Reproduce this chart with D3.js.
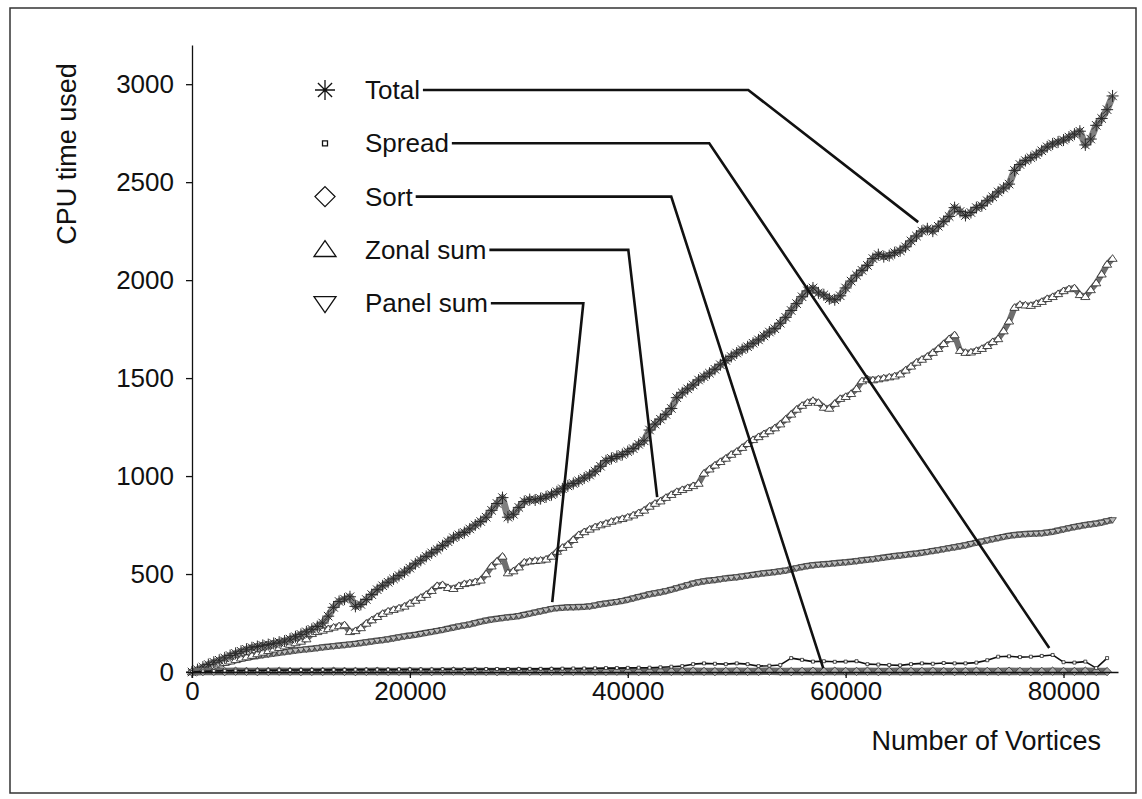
<!DOCTYPE html>
<html>
<head>
<meta charset="utf-8">
<script src="https://cdn.jsdelivr.net/npm/d3@7"></script>
<style>
  body { margin: 0; background: #fff; }
  svg text { font-family: "Liberation Sans", Arial, Helvetica, sans-serif; fill: #111; }
  .axis path, .axis line { stroke: #111; stroke-width: 1.3; }
  .axis text { font-size: 26px; }
</style>
</head>
<body>
<div id="chart"></div>
<script>
// CPU time vs number of vortices

// sample grid (vortices) for the dense series, every 500
var vortices500 = d3.range(0, 85000, 500);
// coarse grid for the two near-zero series, every 1000
var vortices1000 = d3.range(0, 85000, 1000);

var totalTime = [
  0, 12, 25, 38, 50, 60, 72, 84, 95, 106,
  116, 124, 130, 136, 140, 146, 152, 158, 168, 180,
  192, 205, 218, 232, 250, 285, 330, 360, 372, 384,
  335, 345, 370, 395, 420, 440, 458, 475, 492, 510,
  530, 552, 570, 590, 608, 625, 645, 665, 685, 700,
  712, 730, 750, 768, 790, 825, 860, 890, 790, 805,
  840, 870, 880, 878, 885, 894, 905, 920, 935, 950,
  962, 975, 990, 1005, 1025, 1050, 1078, 1090, 1100, 1110,
  1125, 1140, 1162, 1180, 1235, 1265, 1290, 1315, 1345, 1400,
  1425, 1445, 1465, 1490, 1507, 1525, 1545, 1568, 1590, 1610,
  1628, 1645, 1660, 1678, 1695, 1715, 1735, 1752, 1780, 1810,
  1845, 1880, 1915, 1945, 1960, 1935, 1925, 1905, 1900, 1920,
  1960, 1995, 2025, 2050, 2075, 2110, 2130, 2120, 2125, 2140,
  2150, 2170, 2200, 2225, 2250, 2262, 2250, 2275, 2300, 2325,
  2370, 2350, 2330, 2345, 2370, 2380, 2405, 2425, 2450, 2470,
  2490, 2560, 2590, 2610, 2625, 2640, 2660, 2680, 2695, 2705,
  2715, 2730, 2745, 2760, 2690, 2720, 2790, 2825, 2870, 2940
];

var zonalSum = [
  0, 8, 16, 24, 32, 40, 48, 55, 62, 70,
  76, 84, 92, 100, 108, 116, 124, 132, 140, 148,
  156, 168, 195, 205, 212, 220, 228, 235, 240, 205,
  210, 225, 248, 265, 282, 298, 310, 318, 326, 335,
  350, 365, 380, 395, 415, 440, 445, 430, 425, 440,
  450, 455, 460, 468, 500, 540, 565, 590, 505, 515,
  535, 560, 565, 568, 570, 575, 590, 615, 635, 650,
  675, 700, 715, 728, 740, 750, 758, 768, 775, 782,
  790, 800, 812, 825, 845, 860, 872, 890, 905, 920,
  930, 940, 950, 962, 1014, 1035, 1055, 1073, 1090, 1110,
  1125, 1145, 1165, 1185, 1200, 1215, 1230, 1245, 1265, 1290,
  1315, 1340, 1360, 1375, 1385, 1375, 1350, 1345, 1370, 1395,
  1405, 1420, 1445, 1485, 1495, 1490, 1495, 1500, 1505, 1510,
  1520, 1540, 1560, 1580, 1595, 1610, 1630, 1650, 1675, 1700,
  1720, 1640, 1630, 1632, 1640, 1650, 1665, 1685, 1700, 1740,
  1790, 1860, 1875, 1872, 1870, 1880, 1890, 1905, 1915, 1930,
  1945, 1955, 1960, 1925, 1915, 1950, 1985, 2030, 2080, 2110
];

var panelSum = [
  0, 8, 16, 24, 32, 40, 47, 54, 61, 67,
  73, 78, 82, 86, 90, 94, 98, 102, 106, 110,
  113, 116, 119, 122, 126, 129, 132, 135, 138, 141,
  144, 148, 152, 156, 160, 163, 167, 172, 177, 182,
  186, 190, 195, 200, 205, 210, 215, 221, 227, 233,
  238, 243, 250, 257, 263, 268, 272, 276, 279, 282,
  286, 292, 298, 304, 310, 316, 322, 326, 328, 330,
  331, 332, 333, 335, 340, 346, 350, 354, 358, 363,
  369, 376, 383, 390, 397, 402, 407, 413, 420, 428,
  436, 444, 452, 458, 463, 467, 470, 474, 478, 481,
  484, 488, 492, 496, 500, 504, 507, 510, 514, 518,
  524, 530, 536, 541, 545, 548, 550, 552, 555, 558,
  560, 563, 566, 570, 573, 576, 580, 584, 588, 592,
  595, 598, 602, 605, 609, 613, 618, 622, 627, 632,
  637, 642, 647, 654, 660, 666, 672, 678, 684, 690,
  695, 699, 702, 704, 706, 707, 708, 712, 716, 722,
  728, 734, 740, 745, 750, 754, 758, 763, 770, 776
];

var sortTime = [
  0, 2, 3, 2, 4, 3, 2, 3, 4, 3,
  2, 3, 3, 4, 3, 2, 3, 4, 3, 3,
  4, 3, 2, 3, 4, 3, 4, 3, 2, 3,
  4, 3, 3, 4, 2, 3, 4, 3, 3, 4,
  3, 2, 3, 4, 3, 3, 4, 3, 2, 3,
  4, 3, 3, 4, 3, 2, 3, 4, 3, 4,
  3, 3, 4, 2, 3, 4, 3, 3, 4, 3,
  2, 3, 4, 3, 3, 4, 3, 2, 3, 4,
  3, 3, 4, 3, 2
];

var spreadTime = [
  0, 3, 5, 6, 7, 8, 8, 9, 9, 10,
  10, 10, 11, 11, 11, 12, 12, 12, 12, 13,
  13, 13, 13, 14, 14, 14, 14, 15, 15, 15,
  15, 16, 16, 16, 17, 18, 18, 19, 20, 20,
  21, 22, 22, 24, 27, 30, 40, 44, 42, 40,
  44, 40, 30, 32, 36, 71, 62, 53, 55, 52,
  53, 55, 40, 38, 36, 34, 40, 44, 42, 46,
  44, 44, 48, 60, 78, 80, 76, 78, 82, 87,
  50, 48, 53, 20, 71
];

var xTicks = [0, 20000, 40000, 60000, 80000];
var yTicks = [0, 500, 1000, 1500, 2000, 2500, 3000];

var legendNames = ["Total", "Spread", "Sort", "Zonal sum", "Panel sum"];
// leader lines: corner x (vortices) and end point (vortices, time)
var leaderCornerX = [51060, 47480, 43990, 40050, 35920];
var leaderEndX = [66660, 78690, 57940, 42700, 33070];
var leaderEndY = [2296, 122, 20, 893, 357];

var W = 1142, H = 799;
var svg = d3.select("#chart").append("svg")
  .attr("width", W)
  .attr("height", H);

svg.append("rect")
  .attr("x", 10).attr("y", 8)
  .attr("width", W - 16).attr("height", H - 14)
  .attr("fill", "#fff")
  .attr("stroke", "#333")
  .attr("stroke-width", 1.5);

var x = d3.scaleLinear().domain([0, 85000]).range([192, 1118]);
var y = d3.scaleLinear().domain([0, 3200]).range([672, 45]);

// marker shapes, r = half width
function asterisk(r) {
  var a = r * 0.707;
  return "M" + (-r) + ",0L" + r + ",0M0," + (-r) + "L0," + r +
    "M" + (-a) + "," + (-a) + "L" + a + "," + a +
    "M" + (-a) + "," + a + "L" + a + "," + (-a);
}
function square(r) {
  return "M" + (-r) + "," + (-r) + "h" + (2 * r) + "v" + (2 * r) + "h" + (-2 * r) + "Z";
}
function diamond(r) {
  return "M0," + (-r) + "L" + r + ",0L0," + r + "L" + (-r) + ",0Z";
}
function triUp(r) {
  return "M0," + (-r * 0.85) + "L" + r + "," + (r * 0.6) + "L" + (-r) + "," + (r * 0.6) + "Z";
}
function triDown(r) {
  return "M0," + (r * 0.85) + "L" + r + "," + (-r * 0.6) + "L" + (-r) + "," + (-r * 0.6) + "Z";
}

var series = [
  {name: "Panel sum", xs: vortices500, ys: panelSum, shape: triDown, r: 3.8, lineW: 6.5, lineC: "#6a6a6a", fill: "#bbb", mkC: "#333"},
  {name: "Zonal sum", xs: vortices500, ys: zonalSum, shape: triUp, r: 4.6, lineW: 6, lineC: "#6e6e6e", fill: "#fff", mkC: "#222"},
  {name: "Total", xs: vortices500, ys: totalTime, shape: asterisk, r: 6, lineW: 7, lineC: "#808080", fill: "none", mkC: "#2a2a2a"},
  {name: "Sort", xs: vortices1000, ys: sortTime, shape: diamond, r: 4.2, lineW: 7.5, lineC: "#6a6a6a", fill: "#aaa", mkC: "#333"},
  {name: "Spread", xs: vortices1000, ys: spreadTime, shape: square, r: 1.5, lineW: 1.6, lineC: "#111", fill: "#fff", mkC: "#222"}
];

var line = d3.line()
  .x(function(d) { return x(d[0]); })
  .y(function(d) { return y(d[1]); });

series.forEach(function(s) {
  var pts = s.xs.map(function(v, i) { return [v, s.ys[i]]; });
  var g = svg.append("g").attr("class", "series");
  g.append("path")
    .datum(pts)
    .attr("d", line)
    .attr("fill", "none")
    .attr("stroke", s.lineC)
    .attr("stroke-width", s.lineW)
    .attr("stroke-linejoin", "round");
  g.selectAll("path.mk")
    .data(pts).enter()
    .append("path")
    .attr("class", "mk")
    .attr("d", s.shape(s.r))
    .attr("transform", function(d) { return "translate(" + x(d[0]) + "," + y(d[1]) + ")"; })
    .attr("fill", s.fill)
    .attr("stroke", s.mkC)
    .attr("stroke-width", s.name === "Total" ? 1 : 0.8);
});

// axes
svg.append("g")
  .attr("class", "axis")
  .attr("transform", "translate(0,672)")
  .call(d3.axisBottom(x).tickValues(xTicks).tickFormat(d3.format("d")).tickSize(6).tickSizeOuter(0).tickPadding(4));
svg.append("g")
  .attr("class", "axis")
  .attr("transform", "translate(192,0)")
  .call(d3.axisLeft(y).tickValues(yTicks).tickFormat(d3.format("d")).tickSize(6).tickSizeOuter(0).tickPadding(12));

svg.append("text")
  .attr("transform", "translate(76,154) rotate(-90)")
  .attr("text-anchor", "middle")
  .style("font-size", "27px")
  .text("CPU time used");

svg.append("text")
  .attr("x", 1101).attr("y", 750)
  .attr("text-anchor", "end")
  .style("font-size", "27px")
  .text("Number of Vortices");

// legend with leader lines
var shapes = [asterisk, square, diamond, triUp, triDown];
var shapeR = [10, 2.5, 10, 11, 11];
legendNames.forEach(function(name, i) {
  var ly = 90 + i * 53.3;
  svg.append("path")
    .attr("d", shapes[i](shapeR[i]))
    .attr("transform", "translate(325," + ly + ")")
    .attr("fill", "#fff")
    .attr("stroke", "#111")
    .attr("stroke-width", 1.3);
  var t = svg.append("text")
    .attr("x", 365).attr("y", ly + 9)
    .style("font-size", "26px")
    .text(name);
  var x0 = 365 + t.node().getComputedTextLength() + 3;
  svg.append("path")
    .attr("d", "M" + x0 + "," + ly + "L" + x(leaderCornerX[i]) + "," + ly +
      "L" + x(leaderEndX[i]) + "," + y(leaderEndY[i]))
    .attr("fill", "none")
    .attr("stroke", "#111")
    .attr("stroke-width", 2.6);
});
</script>
</body>
</html>
